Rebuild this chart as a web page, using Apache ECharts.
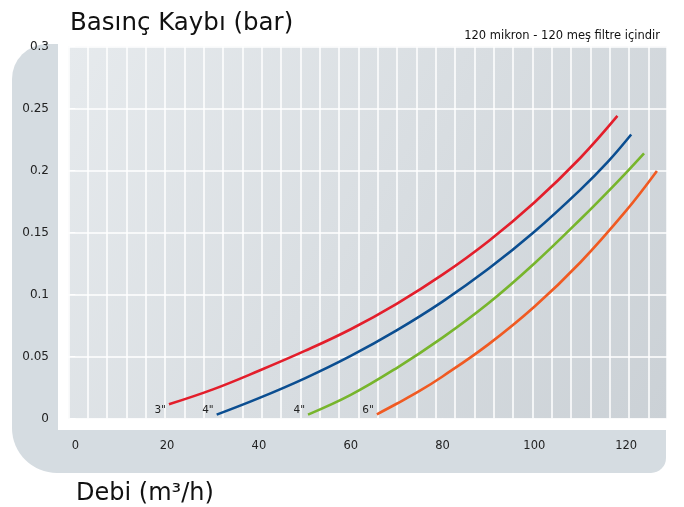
<!DOCTYPE html>
<html>
<head>
<meta charset="utf-8">
<script src="https://cdn.jsdelivr.net/npm/echarts@6/dist/echarts.min.js"></script>
<style>html,body{margin:0;padding:0;background:#fff}#c{width:684px;height:507px}</style>
</head>
<body>
<div id="c"></div>
<script>
// ---- data ----
const seriesNames = ['3"', '4"', '4"', '6"'];
const red3 = [[20.4,0.0115],[30,0.0235],[40,0.0385],[50,0.0545],[60,0.0720],[70,0.0925],[80,0.1160],[90,0.1430],[100,0.1742],[110,0.2101],[118.1,0.2440]];
const blue4 = [[30.8,0.0031],[40,0.0164],[50,0.0324],[60,0.0505],[70,0.0711],[80,0.0943],[90,0.1207],[100,0.1506],[110,0.1844],[116,0.2069],[121.1,0.2290]];
const green4 = [[50.7,0.0031],[60,0.0190],[70,0.0407],[80,0.0652],[90,0.0929],[100,0.1250],[110,0.1605],[118,0.1905],[123.9,0.2139]];
const orange6 = [[65.7,0.0034],[70,0.0119],[75,0.0222],[80,0.0339],[90,0.0598],[100,0.0901],[110,0.1258],[120,0.1676],[126.7,0.1996]];
const xTickValues = [0, 20, 40, 60, 80, 100, 120];
const yMax = 0.3, yStep = 0.05;

const FONT = '"DejaVu Sans", Verdana, sans-serif';
const colors = ['#e31e2b', '#0b4e91', '#77b52c', '#f05a22'];
const labelOffsets = [[0, 6], [0, -4], [0, -4], [0, -4]];
const allData = [red3, blue4, green4, orange6];

const chart = echarts.init(document.getElementById('c'), null, {renderer: 'canvas'});
chart.setOption({
  animation: false,
  backgroundColor: '#ffffff',
  title: [
    {text: 'Basınç Kaybı (bar)', left: 65, top: 6, textStyle: {fontFamily: FONT, fontSize: 24.5, fontWeight: 'normal', color: '#111'}},
    {text: '120 mikron - 120 meş filtre içindir', right: 19, top: 25, textStyle: {fontFamily: FONT, fontSize: 11.5, fontWeight: 'normal', color: '#111'}},
    {text: 'Debi (m³/h)', left: 71, top: 477, textStyle: {fontFamily: FONT, fontSize: 24, fontWeight: 'normal', color: '#111'}}
  ],
  graphic: [
    {type: 'rect', z: -100, silent: true, shape: {x: 12, y: 44, width: 654, height: 429, r: [35, 0, 15, 45]}, style: {fill: '#d5dce1'}},
    {type: 'rect', z: -99, silent: true, shape: {x: 58, y: 30, width: 626, height: 400}, style: {fill: '#ffffff'}}
  ],
  grid: {
    left: 68.4, right: 17, top: 46.5, bottom: 88.5,
    show: true, borderWidth: 0,
    backgroundColor: new echarts.graphic.LinearGradient(0, 0, 1, 1, [
      {offset: 0, color: '#e6eaed'}, {offset: 1, color: '#cbd1d6'}
    ])
  },
  xAxis: [
    {
      type: 'value', min: -1.5, max: 128.9, position: 'bottom', offset: 12.5,
      axisLine: {show: false},
      axisTick: {show: true, length: 6, lineStyle: {color: '#ffffff', width: 1}, customValues: xTickValues},
      axisLabel: {customValues: xTickValues, margin: 9, fontFamily: FONT, fontSize: 11.5, color: '#222'},
      splitLine: {show: false}
    },
    {
      type: 'value', min: 0, max: 30.97, interval: 1, position: 'top',
      axisLine: {show: false}, axisTick: {show: false}, axisLabel: {show: false},
      splitLine: {show: true, lineStyle: {color: '#ffffff', width: 1.5}}
    }
  ],
  yAxis: {
    type: 'value', min: 0, max: yMax, interval: yStep, offset: 11.4,
    axisLine: {show: false},
    axisTick: {show: true, length: 5, lineStyle: {color: '#ffffff', width: 1}},
    axisLabel: {margin: 8, fontFamily: FONT, fontSize: 12, color: '#222'},
    splitLine: {show: true, lineStyle: {color: '#ffffff', width: 1.5}}
  },
  series: allData.map((d, i) => ({
    type: 'line', name: seriesNames[i], data: d, xAxisIndex: 0, smooth: 0.4,
    showSymbol: true, symbol: 'circle', symbolSize: 0,
    lineStyle: {color: colors[i], width: 2.6},
    itemStyle: {color: colors[i]},
    label: {
      show: true, position: 'left', distance: 3, offset: labelOffsets[i],
      fontFamily: FONT, fontSize: 10.5, color: '#222',
      formatter: p => p.dataIndex === 0 ? seriesNames[i] : ''
    }
  }))
});
</script>
</body>
</html>
